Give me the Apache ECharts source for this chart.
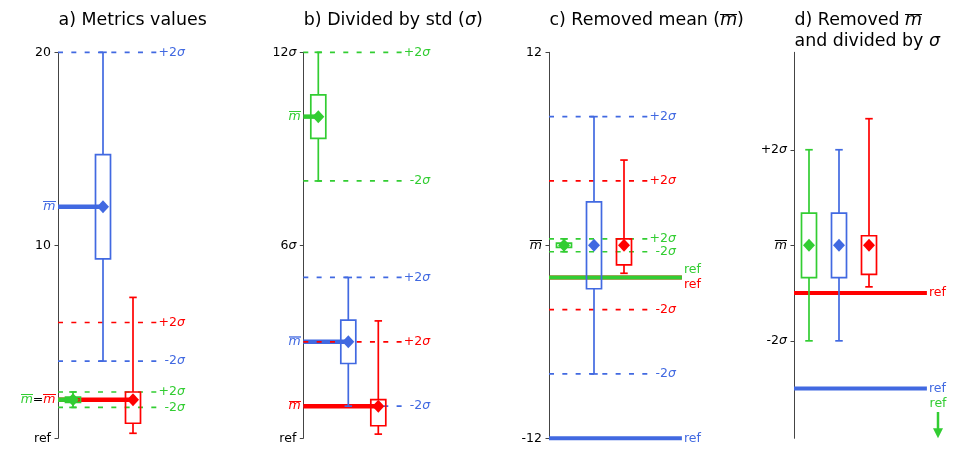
<!DOCTYPE html>
<html>
<head>
<meta charset="utf-8">
<script src="https://cdn.jsdelivr.net/npm/echarts@6/dist/echarts.min.js"></script>
<style>
  html, body { margin: 0; padding: 0; background: #ffffff; }
  #chart { width: 962px; height: 455px; }
</style>
</head>
<body>
<div id="chart"></div>
<script>
// Three metrics: green, blue, red
const metricColors = ['#32CD32', '#4169E1', '#FF0000'];
const positions = [1, 2, 3];
const means = [2, 12, 2];
const stds = [0.2, 4, 2];
const refValue = 0;
// Box statistics in metric units
const whiskerLow = [1.6, 4, 0.26];
const quartile1 = [1.865, 9.3, 0.78];
const quartile3 = [2.135, 14.7, 2.4];
const whiskerHigh = [2.4, 20, 7.3];
const bandSigmas = [2, -2];

// Panels
const panelTitles = [
  'a) Metrics values',
  'b) Divided by std ({s|σ})',
  'c) Removed mean ({mo|m})',
  'd) Removed {mo|m}\nand divided by {s|σ}'
];
const yMins = [0, 0, -12, -4.04];
const yMaxs = [20, 12, 12, 4.04];
const tickValues = [[0, 10, 20], [0, 6, 12], [-12, 0, 12], [-2, 0, 2]];
const tickLabels = [
  ['ref', '10', '20'],
  ['ref', '6{s|σ}', '12{s|σ}'],
  ['-12', '{mo|m}', '12'],
  ['-2{s|σ}', '{mo|m}', '+2{s|σ}']
];
const shiftByMean = [false, false, true, true];
const scaleBySigma = [false, true, false, true];
const showBands = [true, true, true, false];
const showMeanLines = [true, true, false, false];
const showRefLines = [false, false, true, true];

// Layout
const FONT = 'DejaVu Sans';
const panelLeft = [58, 303.3, 549, 794];
const X0 = 0.5, BAND_END = 3.8, BAND_LABEL_X = 4.73, REF_END = 4.93, ARROW_X = 5.3;
const BOX_WIDTH = 0.5;
const lineOrder = [1, 2, 0];

// Overline drawn as a stretched background image behind a glyph
function overlineImage(color) {
  const c = document.createElement('canvas');
  c.width = 16; c.height = 100;
  const ctx = c.getContext('2d');
  ctx.fillStyle = color;
  ctx.fillRect(0, 9, 16, 8);
  return c;
}

function richFor(color, size) {
  return {
    s: { color, fontFamily: FONT, fontSize: size, fontStyle: 'italic' },
    mo: { color, fontFamily: FONT, fontSize: size, fontStyle: 'italic',
          backgroundColor: { image: overlineImage(color) } }
  };
}

function tf(g, i, v) {
  let r = v;
  if (shiftByMean[g]) r -= means[i];
  if (scaleBySigma[g]) r /= stds[i];
  return r;
}

function renderBox(params, api) {
  const x = api.value(0);
  const lo = api.coord([x, api.value(1)]);
  const q1 = api.coord([x, api.value(2)]);
  const q3 = api.coord([x, api.value(3)]);
  const hi = api.coord([x, api.value(4)]);
  const bw = api.size([BOX_WIDTH, 0])[0];
  const cw = bw / 4;
  const style = { stroke: api.visual('color'), lineWidth: 1.7, fill: 'none' };
  return {
    type: 'group',
    children: [
      { type: 'line', shape: { x1: lo[0], y1: lo[1], x2: q1[0], y2: q1[1] }, style },
      { type: 'line', shape: { x1: q3[0], y1: q3[1], x2: hi[0], y2: hi[1] }, style },
      { type: 'line', shape: { x1: lo[0] - cw, y1: lo[1], x2: lo[0] + cw, y2: lo[1] }, style },
      { type: 'line', shape: { x1: hi[0] - cw, y1: hi[1], x2: hi[0] + cw, y2: hi[1] }, style },
      { type: 'rect', shape: { x: q3[0] - bw / 2, y: q3[1], width: bw, height: q1[1] - q3[1] }, style }
    ]
  };
}

const series = [];
const labelSeries = [];

function addLabel(g, x, y, text, color, position, distance, offset, rich) {
  labelSeries.push({
    type: 'scatter', xAxisIndex: g, yAxisIndex: g, silent: true, clip: false,
    symbolSize: 0, z: 10,
    itemStyle: { opacity: 1 },
    data: [[x, y]],
    label: {
      show: true, position, distance, offset: offset || [0, 0], opacity: 1,
      formatter: text, color, fontFamily: FONT, fontSize: 12.5,
      rich: rich || richFor(color, 12.5)
    }
  });
}

for (let g = 0; g < 4; g++) {
  const inRange = v => v >= yMins[g] - 1e-9 && v <= yMaxs[g] + 1e-9;

  // dashed ±2σ bands and thick mean lines
  for (const i of lineOrder) {
    const c = metricColors[i];
    if (showBands[g]) {
      for (const k of bandSigmas) {
        const v = tf(g, i, means[i] + k * stds[i]);
        if (!inRange(v)) continue;
        series.push({
          type: 'line', xAxisIndex: g, yAxisIndex: g, silent: true, clip: false,
          symbol: 'none', data: [[X0, v], [BAND_END, v]],
          lineStyle: { color: c, width: 1.7, type: [5, 8.33] }
        });
        addLabel(g, BAND_LABEL_X, v, (k > 0 ? '+' : '-') + Math.abs(k) + '{s|σ}', c, 'left', 0);
      }
    }
    if (showMeanLines[g]) {
      const m = tf(g, i, means[i]);
      series.push({
        type: 'line', xAxisIndex: g, yAxisIndex: g, silent: true, clip: false,
        symbol: 'none', data: [[X0, m], [positions[i], m]],
        lineStyle: { color: c, width: 4.5 }
      });
    }
  }

  // mean labels next to the axis, merged where means coincide
  if (showMeanLines[g]) {
    const groups = {};
    [0, 1, 2].forEach(i => {
      const m = tf(g, i, means[i]);
      const key = m.toFixed(6);
      (groups[key] = groups[key] || { m, idx: [] }).idx.push(i);
    });
    const rich = { eq: { color: '#000', fontFamily: FONT, fontSize: 12.5 } };
    [0, 1, 2].forEach(i => {
      rich['m' + i] = richFor(metricColors[i], 12.5).mo;
    });
    Object.values(groups).forEach(gr => {
      const text = gr.idx.map(i => '{m' + i + '|m}').join('{eq|=}');
      addLabel(g, X0, gr.m, text, '#000', 'left', 2.5, [0, 0], rich);
    });
  }

  // reference lines
  if (showRefLines[g]) {
    const refs = [0, 1, 2].map(i => tf(g, i, refValue));
    for (const i of lineOrder) {
      const r = refs[i];
      if (!inRange(r)) continue;
      series.push({
        type: 'line', xAxisIndex: g, yAxisIndex: g, silent: true, clip: false,
        symbol: 'none', data: [[X0, r], [REF_END, r]],
        lineStyle: { color: metricColors[i], width: 4 }
      });
    }
    [0, 1, 2].forEach(i => {
      const r = refs[i];
      const c = metricColors[i];
      if (inRange(r)) {
        const same = [0, 1, 2].filter(j => Math.abs(refs[j] - r) < 1e-9);
        let dy = 0;
        if (same.length > 1) dy = same.indexOf(i) === 0 ? -7.5 : 7.5;
        addLabel(g, REF_END, r, 'ref', c, 'right', 2, [0, dy]);
      } else if (r < yMins[g]) {
        const top = yMins[g] + 0.55;
        series.push({
          type: 'line', xAxisIndex: g, yAxisIndex: g, silent: true, clip: false,
          symbol: 'none', data: [[ARROW_X, top], [ARROW_X, yMins[g] + 0.12]],
          lineStyle: { color: c, width: 2.5 }
        });
        series.push({
          type: 'scatter', xAxisIndex: g, yAxisIndex: g, silent: true, clip: false,
          symbol: 'triangle', symbolRotate: 180, symbolSize: [10, 10], symbolOffset: [0, -5],
          data: [[ARROW_X, yMins[g]]], itemStyle: { color: c, opacity: 1 }
        });
        addLabel(g, ARROW_X, top, 'ref', c, 'top', 2);
      }
    });
  }

  // boxes with whiskers
  series.push({
    type: 'custom', xAxisIndex: g, yAxisIndex: g, silent: true, z: 5,
    renderItem: renderBox,
    data: [0, 1, 2].map(i => ({
      value: [positions[i], tf(g, i, whiskerLow[i]), tf(g, i, quartile1[i]),
              tf(g, i, quartile3[i]), tf(g, i, whiskerHigh[i])],
      itemStyle: { color: metricColors[i] }
    }))
  });

  // mean markers
  series.push({
    type: 'scatter', xAxisIndex: g, yAxisIndex: g, silent: true, clip: false, z: 6,
    symbol: 'diamond', symbolSize: [12, 13],
    data: [0, 1, 2].map(i => ({
      value: [positions[i], tf(g, i, means[i])],
      itemStyle: { color: metricColors[i], opacity: 1 }
    }))
  });
}

const option = {
  backgroundColor: '#ffffff',
  animation: false,
  title: panelTitles.map((t, g) => ({
    text: t, left: panelLeft[g] + 0.5, top: 10.5, padding: 0,
    textStyle: {
      fontFamily: FONT, fontSize: 17.4, fontWeight: 'normal', color: '#000', lineHeight: 20.5,
      rich: {
        s: { fontFamily: FONT, fontSize: 17.4, fontStyle: 'italic', color: '#000', lineHeight: 20.5 },
        mo: { fontFamily: FONT, fontSize: 17.4, fontStyle: 'italic', color: '#000', lineHeight: 20.5,
              backgroundColor: { image: overlineImage('#000') } }
      }
    }
  })),
  grid: panelLeft.map(l => ({ left: l, top: 52.3, width: 150, height: 386 })),
  xAxis: panelLeft.map((l, g) => ({
    type: 'value', gridIndex: g, min: 0.5, max: 5.5, show: false
  })),
  yAxis: panelLeft.map((l, g) => ({
    type: 'value', gridIndex: g, min: yMins[g], max: yMaxs[g],
    splitLine: { show: false },
    axisLine: { show: true, lineStyle: { color: '#444', width: 1 } },
    axisTick: { show: true, length: 3.5, customValues: tickValues[g], lineStyle: { color: '#444', width: 1 } },
    axisLabel: {
      show: true, customValues: tickValues[g], margin: 7,
      fontFamily: FONT, fontSize: 12.5, color: '#000',
      formatter: v => {
        const k = tickValues[g].findIndex(t => Math.abs(t - v) < 1e-9);
        return k >= 0 ? tickLabels[g][k] : '';
      },
      rich: richFor('#000', 12.5)
    }
  })),
  series: series.concat(labelSeries)
};

const chart = echarts.init(document.getElementById('chart'), null, { renderer: 'canvas' });
chart.setOption(option);
</script>
</body>
</html>
